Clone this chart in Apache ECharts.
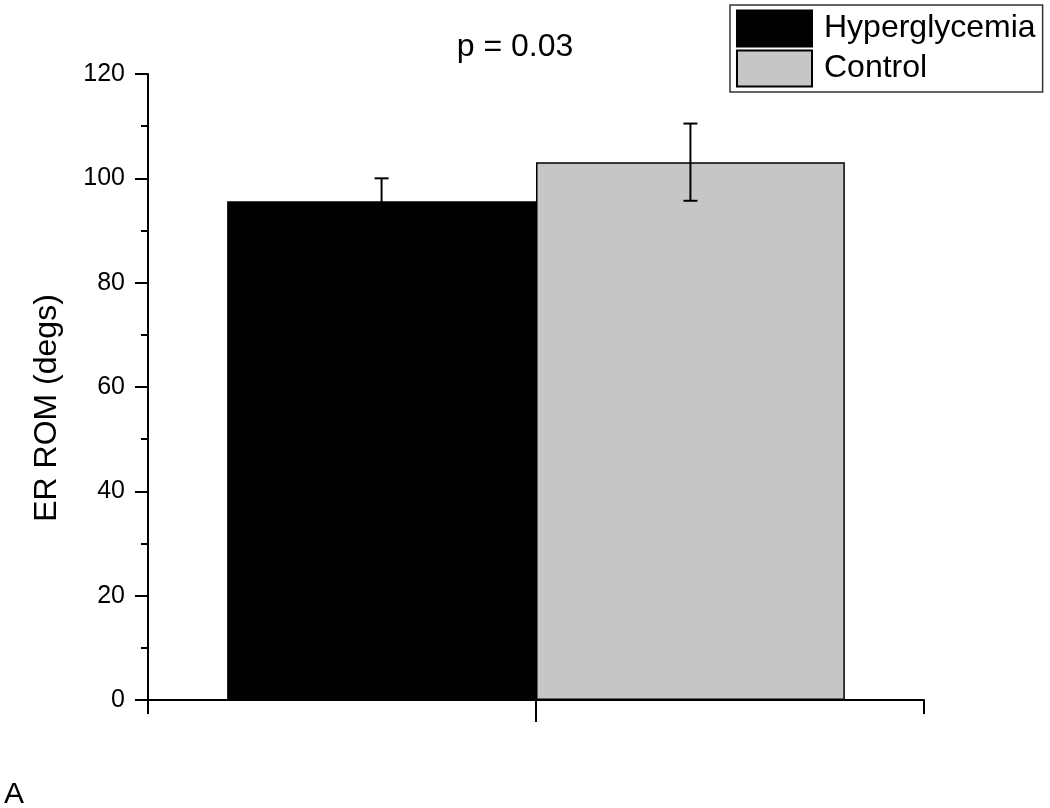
<!DOCTYPE html>
<html>
<head>
<meta charset="utf-8">
<script src="https://cdn.jsdelivr.net/npm/echarts@6/dist/echarts.min.js"></script>
<style>html,body{margin:0;padding:0;background:#fff;}#c{width:1050px;height:808px;}</style>
</head>
<body>
<div id="c"></div>
<script>
const categories = ['ER ROM'];
const groups = ['Hyperglycemia', 'Control'];
const means = [95.6, 103.1];
const errors = [4.4, 7.4];
const colors = ['#000000', '#c6c6c6'];
const yMin = 0, yMax = 120, yInterval = 20;
const titleText = 'p = 0.03';
const yName = 'ER ROM (degs)';
const panelLabel = 'A';

const FONT = "'Liberation Sans', Arial, sans-serif";
const barFrac = 0.398;

const chart = echarts.init(document.getElementById('c'), null, {renderer: 'canvas'});

const barSeries = groups.map((g, i) => ({
  name: g,
  type: 'bar',
  xAxisIndex: 0,
  data: [means[i]],
  barWidth: (barFrac * 100) + '%',
  barGap: '0%',
  itemStyle: {color: colors[i], borderColor: '#000', borderWidth: 1.5},
  emphasis: {disabled: true},
  z: 2
}));

const errData = groups.map((g, i) => [0, means[i] - errors[i], means[i] + errors[i], i]);

const errSeries = {
  type: 'custom',
  xAxisIndex: 0,
  data: errData,
  encode: {x: 0, y: [1, 2]},
  z: 5,
  silent: true,
  renderItem: function (params, api) {
    const bw = api.size([1, 0])[0];
    const gi = api.value(3);
    const off = (gi - (groups.length - 1) / 2) * bw * barFrac;
    const lo = api.coord([api.value(0), api.value(1)]);
    const hi = api.coord([api.value(0), api.value(2)]);
    const x = lo[0] + off;
    const cap = 7;
    const st = {stroke: '#000', lineWidth: 2};
    return {
      type: 'group',
      children: [
        {type: 'line', shape: {x1: x, y1: lo[1], x2: x, y2: hi[1]}, style: st},
        {type: 'line', shape: {x1: x - cap, y1: lo[1], x2: x + cap, y2: lo[1]}, style: st},
        {type: 'line', shape: {x1: x - cap, y1: hi[1], x2: x + cap, y2: hi[1]}, style: st}
      ]
    };
  }
};

const option = {
  backgroundColor: '#fff',
  animation: false,
  grid: {left: 148, right: 126, top: 74, bottom: 108, containLabel: false},
  legend: {
    data: groups,
    orient: 'vertical',
    left: 730,
    top: 5,
    itemWidth: 75,
    itemHeight: 36,
    itemGap: 1,
    padding: [4, 7, 4, 6],
    borderColor: '#333',
    borderWidth: 1.5,
    icon: 'rect',
    selectedMode: false,
    textStyle: {fontFamily: FONT, fontSize: 32, color: '#000', padding: [3, 0, 0, 7], lineHeight: 36}
  },
  xAxis: [
    {
      type: 'category',
      data: categories,
      boundaryGap: true,
      position: 'bottom',
      axisLine: {lineStyle: {color: '#000', width: 2}},
      axisTick: {show: true, length: 14, inside: false, lineStyle: {color: '#000', width: 2}},
      axisLabel: {show: false},
      splitLine: {show: false}
    },
    {
      type: 'category',
      data: categories,
      boundaryGap: true,
      position: 'bottom',
      offset: 0,
      axisLine: {show: false},
      axisTick: {show: true, alignWithLabel: true, length: 22, lineStyle: {color: '#000', width: 2}},
      axisLabel: {show: false},
      splitLine: {show: false}
    }
  ],
  yAxis: {
    type: 'value',
    min: yMin,
    max: yMax,
    interval: yInterval,
    axisLine: {show: true, lineStyle: {color: '#000', width: 2}},
    axisTick: {show: true, length: 13, lineStyle: {color: '#000', width: 2}},
    minorTick: {show: true, splitNumber: 2, length: 7, lineStyle: {color: '#000', width: 2}},
    axisLabel: {fontFamily: FONT, fontSize: 25, color: '#000', margin: 23},
    splitLine: {show: false}
  },
  graphic: [
    {type: 'text', x: 515, y: 47, style: {text: titleText, font: '32px ' + FONT, fill: '#000', align: 'center', verticalAlign: 'middle'}},
    {type: 'text', x: 47, y: 408, rotation: Math.PI / 2, style: {text: yName, font: '32px ' + FONT, fill: '#000', align: 'center', verticalAlign: 'middle'}},
    {type: 'text', x: 4, y: 795, style: {text: panelLabel, font: '30px ' + FONT, fill: '#000', verticalAlign: 'middle'}}
  ],
  series: barSeries.concat([errSeries])
};

chart.setOption(option);
</script>
</body>
</html>
